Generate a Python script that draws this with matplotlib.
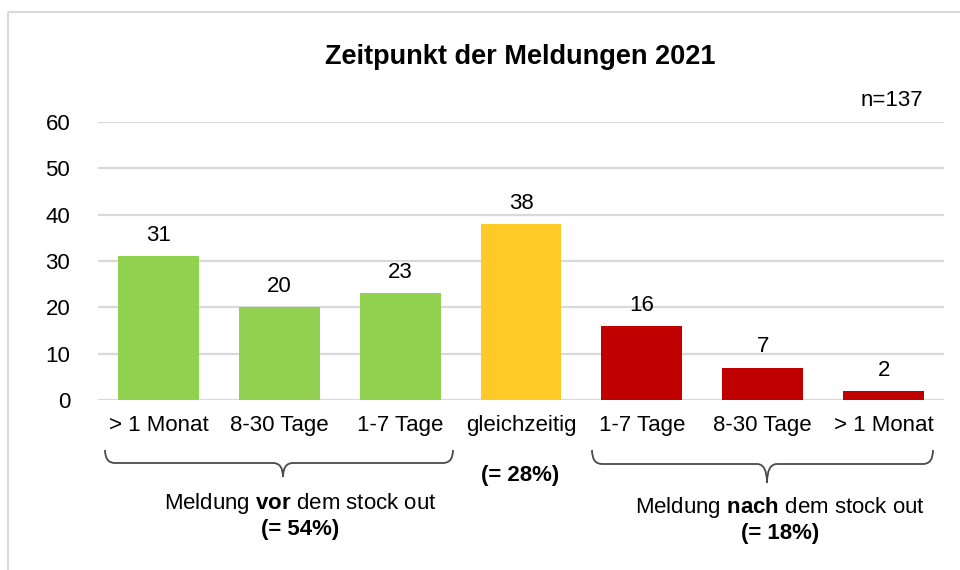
import numpy as np
import matplotlib; matplotlib.use("Agg"); import matplotlib.pyplot as plt
from matplotlib.path import Path
from matplotlib.patches import PathPatch, Rectangle

plt.rcParams["font.family"] = ["Liberation Sans", "DejaVu Sans"]
plt.rcParams["mathtext.fontset"] = "custom"
plt.rcParams["mathtext.rm"] = "Liberation Sans"
plt.rcParams["mathtext.bf"] = "Liberation Sans:bold"

categories = ["> 1 Monat", "8-30 Tage", "1-7 Tage", "gleichzeitig", "1-7 Tage", "8-30 Tage", "> 1 Monat"]
counts = [31, 20, 23, 38, 16, 7, 2]
bar_colors = ["#92D050", "#92D050", "#92D050", "#FFCA28", "#C00000", "#C00000", "#C00000"]
yticks = [0, 10, 20, 30, 40, 50, 60]
title = "Zeitpunkt der Meldungen 2021"
n_label = "n=137"

W, H = 960, 570
fig = plt.figure(figsize=(W / 100, H / 100), dpi=100)
FS = 16

# main plot area, placed in pixel terms
x0, x1, yb, yt = 98, 944, 400, 122
ax = fig.add_axes([x0 / W, (H - yb) / H, (x1 - x0) / W, (yb - yt) / H])
x = np.arange(len(categories))
ax.bar(x, counts, width=0.67, color=bar_colors, zorder=3)
for xi, v in zip(x, counts):
    ax.text(xi, v + 2.2, str(v), ha="center", va="bottom", fontsize=FS)
ax.set_xlim(-0.5, len(categories) - 0.5)
ax.set_ylim(0, 60)
ax.set_yticks(yticks)
ax.set_xticks(x)
ax.set_xticklabels(categories)
ax.yaxis.grid(True, color="#D9D9D9", lw=1.6, zorder=0)
ax.tick_params(axis="both", length=0, labelsize=FS)
ax.tick_params(axis="x", pad=11)
ax.tick_params(axis="y", pad=20)
for s in ax.spines.values():
    s.set_visible(False)

# overlay in pixel coordinates for frame, braces and group notes
ov = fig.add_axes([0, 0, 1, 1], zorder=5)
ov.set_xlim(0, W); ov.set_ylim(H, 0); ov.axis("off")
ov.add_patch(Rectangle((8, 12), W, H, fill=False, ec="#D9D9D9", lw=1.5))
ov.text(520, 57, title, ha="center", va="center", fontsize=19.5, fontweight="bold")
ov.text(923, 100, n_label, ha="right", va="center", fontsize=FS)


def brace(xl, xr, xm, ytop, ymid, ytip):
    r = 10
    verts = [(xl, ytop), (xl, ymid), (xl + r, ymid), (xm - r, ymid), (xm, ymid), (xm, ytip),
             (xm, ymid), (xm + r, ymid), (xr - r, ymid), (xr, ymid), (xr, ytop)]
    codes = [Path.MOVETO, Path.CURVE3, Path.CURVE3, Path.LINETO, Path.CURVE3, Path.CURVE3,
             Path.CURVE3, Path.CURVE3, Path.LINETO, Path.CURVE3, Path.CURVE3]
    ov.add_patch(PathPatch(Path(verts, codes), fill=False, ec="#4a4a4a", lw=1.3))


brace(105, 453, 283, 450, 463, 477)
brace(592, 933, 767, 450, 464, 483)

ov.text(300, 503, r"Meldung $\mathbf{vor}$ dem stock out", ha="center", va="center", fontsize=FS)
ov.text(300, 530, "(= 54%)", ha="center", va="center", fontsize=FS, fontweight="bold")
ov.text(520, 475, "(= 28%)", ha="center", va="center", fontsize=FS, fontweight="bold")
ov.text(780, 507, r"Meldung $\mathbf{nach}$ dem stock out", ha="center", va="center", fontsize=FS)
ov.text(780, 533, "(= 18%)", ha="center", va="center", fontsize=FS, fontweight="bold")

fig.savefig("out.png", dpi=100)
